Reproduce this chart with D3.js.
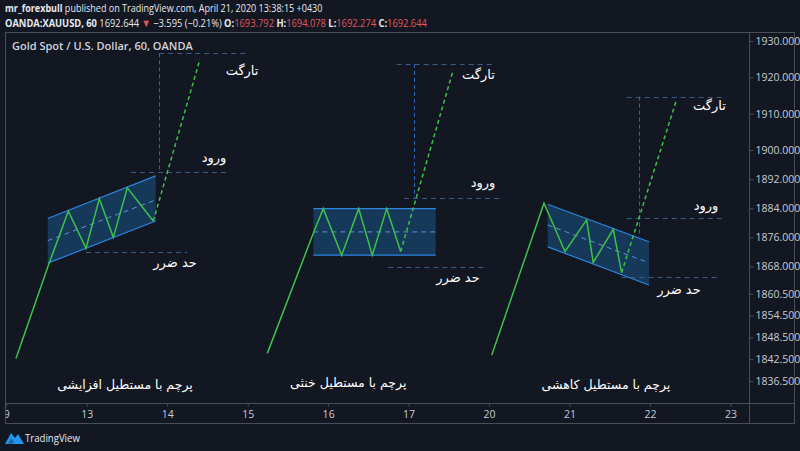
<!DOCTYPE html>
<html><head><meta charset="utf-8">
<script src="https://cdn.jsdelivr.net/npm/d3@7"></script>
<style>
html,body{margin:0;padding:0;background:#131722;}
svg{display:block;}
</style></head>
<body>
<script>
// ---------- data ----------
const dayIndex  = [0,1,2,3,4,5,6,7,8,9];
const dayLabels = ["9","13","14","15","16","17","20","21","22","23"];
const priceTicks = [1930,1920,1910,1900,1892,1884,1876,1868,1860.5,1854.5,1848.5,1842.5,1836.5];

// rising flag
const risingLine     = [[0.12,1842.7],[0.534,1869.0],[0.771,1883.2],[0.991,1873.0],[1.156,1886.6],[1.330,1876.0],[1.504,1889.6],[1.827,1880.5]];
const risingBreakout = [[1.827,1880.5],[2.407,1925.0]];
const risingChannel  = [[0.515,1881.2],[1.857,1892.9],[1.857,1880.5],[0.515,1868.9]];
const risingMid      = [[0.515,1875.1],[1.857,1886.3]];
const risingLevels   = [[1926.6,1.902,2.988],[1894.1,1.550,2.752],[1872.1,0.991,2.250]];
const risingMeasure  = [1.902,1926.6,1894.1];
const risingLabels   = [[2.93,1922.0],[2.581,1898.1],[2.097,1869.2]];
const risingTitle    = ["پرچم با مستطیل افزایشی",1.475,1835.4];

// flat flag
const flatLine     = [[3.244,1844.1],[3.824,1877.6],[3.940,1883.9],[4.168,1871.1],[4.380,1883.9],[4.549,1871.1],[4.728,1883.9],[4.902,1872.1]];
const flatBreakout = [[4.902,1872.1],[5.548,1921.5]];
const flatChannel  = [[3.816,1883.9],[5.337,1883.9],[5.337,1871.1],[3.816,1871.1]];
const flatMid      = [[3.816,1877.5],[5.337,1877.5]];
const flatLevels   = [[1923.7,4.852,6.040],[1886.7,4.943,6.127],[1867.8,4.748,5.937]];
const flatMeasure  = [5.071,1923.7,1886.7];
const flatLabels   = [[5.869,1920.9],[5.925,1891.0],[5.614,1865.1]];
const flatTitle    = ["پرچم با مستطیل خنثی",4.25,1836.0];

// falling flag
const fallingLine     = [[6.033,1843.6],[6.683,1885.4],[6.944,1872.1],[7.213,1880.8],[7.295,1869.1],[7.544,1878.2],[7.648,1866.3]];
const fallingBreakout = [[7.648,1866.3],[8.323,1913.3]];
const fallingChannel  = [[6.729,1885.1],[7.988,1874.8],[7.988,1862.9],[6.729,1873.4]];
const fallingMid      = [[6.729,1879.4],[7.988,1869.0]];
const fallingLevels   = [[1914.7,7.711,8.932],[1881.2,7.711,8.932],[1865.0,7.648,8.849]];
const fallingMeasure  = [7.864,1914.7,1876.65];
const fallingLabels   = [[8.740,1912.4],[8.696,1884.9],[8.361,1861.8]];
const fallingTitle    = ["پرچم با مستطیل کاهشی",7.453,1835.4];

const levelNames = ["تارگت","ورود","حد ضرر"];

// ---------- layout ----------
const W = 800, H = 451;
const plot = {l:5, r:749, t:32, b:403};
const outerR = 794, axisB = 423;

const svg = d3.select("body").append("svg").attr("width",W).attr("height",H);
svg.append("rect").attr("width",W).attr("height",H).attr("fill","#131722");

const x = d3.scaleLinear().domain([0,9]).range([6.3,730.4]);
const y = d3.scaleLinear().domain([1836.5,1930]).range([381,41]);

const C = {
  frame:"#4a4e59", text:"#c8cbd3", green:"#3cc24a", fill:"rgba(33,150,243,0.27)",
  edge:"#2e86de", mid:"#5b93d8", level:"#3b5b8c", measure:"#2f64b0", red:"#e0575b"
};

// header (horizontally condensed to the reference widths)
function fitLine(sel, target, tx, ty){
  const w = sel.node().getBBox().width;
  const sx = target / w;
  sel.attr("transform", `translate(${tx},${ty}) scale(${sx},1)`);
}
const hdr = svg.append("g").attr("font-family","'Open Sans', sans-serif").attr("fill","#e6e8ee");
const h1 = hdr.append("text").attr("x",0).attr("y",0).attr("font-size",11);
h1.append("tspan").attr("font-weight","bold").text("mr_forexbull");
h1.append("tspan").text(" published on TradingView.com, April 21, 2020 13:38:15 +0430");
fitLine(h1, 318, 5, 12);
const h2 = hdr.append("text").attr("x",0).attr("y",0).attr("font-size",11);
h2.append("tspan").attr("font-weight","bold").text("OANDA:XAUUSD, 60");
h2.append("tspan").text("\u00a01692.644\u00a0");
h2.append("tspan").attr("fill",C.red).text("▼");
h2.append("tspan").text("\u00a0−3.595 (−0.21%)\u00a0");
[["O:","1693.792"],["H:","1694.078"],["L:","1692.274"],["C:","1692.644"]].forEach((p,i)=>{
  h2.append("tspan").attr("font-weight","bold").text((i?"\u00a0":"")+p[0]);
  h2.append("tspan").attr("fill",C.red).text(p[1]);
});
fitLine(h2, 423, 5, 27.2);

// frame
const fr = svg.append("g").attr("fill","none").attr("stroke",C.frame).attr("stroke-width",1);
fr.append("rect").attr("x",plot.l+0.5).attr("y",plot.t+0.5).attr("width",outerR-plot.l).attr("height",axisB-plot.t);
fr.append("line").attr("x1",plot.r+0.5).attr("x2",plot.r+0.5).attr("y1",plot.t).attr("y2",axisB);
fr.append("line").attr("x1",plot.l).attr("x2",outerR).attr("y1",plot.b+0.5).attr("y2",plot.b+0.5);

// clip
svg.append("clipPath").attr("id","pc").append("rect")
  .attr("x",plot.l+1).attr("y",plot.t+1).attr("width",plot.r-plot.l-1).attr("height",plot.b-plot.t-1);

// axes
const yAxis = d3.axisRight(y).tickValues(priceTicks).tickFormat(d3.format(".3f")).tickSize(4).tickPadding(2);
const gy = svg.append("g").attr("transform",`translate(${plot.r+0.5},0)`).call(yAxis);
gy.select(".domain").remove();
gy.selectAll("line").attr("stroke",C.frame);
gy.selectAll("text").attr("fill",C.text).attr("font-size",10.5).attr("font-family","'Open Sans', sans-serif");

const xAxis = d3.axisBottom(x).tickValues(dayIndex).tickFormat((d,i)=>dayLabels[i]).tickSize(3).tickPadding(4);
svg.append("clipPath").attr("id","xc").append("rect").attr("x",plot.l+1).attr("y",plot.b).attr("width",plot.r-plot.l-1).attr("height",axisB-plot.b);
const gxw = svg.append("g").attr("clip-path","url(#xc)");
const gx = gxw.append("g").attr("transform",`translate(0,${plot.b+0.5})`).call(xAxis);
gx.select(".domain").remove();
gx.selectAll("line").attr("stroke",C.frame);
gx.selectAll("text").attr("fill",C.text).attr("font-size",10.5).attr("font-family","'Open Sans', sans-serif");

// chart title
svg.append("text").attr("x",12).attr("y",50).attr("font-size",11).attr("font-weight","600")
  .attr("font-family","'Open Sans', sans-serif").attr("fill","#d1d4dc").text("Gold Spot / U.S. Dollar, 60, OANDA");

// drawings
const g = svg.append("g").attr("clip-path","url(#pc)");
const line = d3.line().x(d=>x(d[0])).y(d=>y(d[1]));

function drawFlag(mainLine, breakout, channel, mid, levels, measure, labels, title){
  g.append("path").attr("d",line(channel)+"Z").attr("fill",C.fill).attr("stroke","none");
  g.append("path").attr("d",line([channel[0],channel[1]])).attr("stroke",C.edge).attr("stroke-width",1.2).attr("fill","none");
  g.append("path").attr("d",line([channel[3],channel[2]])).attr("stroke",C.edge).attr("stroke-width",1.2).attr("fill","none");
  g.append("path").attr("d",line(mid)).attr("stroke",C.mid).attr("stroke-width",1).attr("stroke-dasharray","5,4").attr("fill","none");
  levels.forEach(l=>{
    g.append("line").attr("x1",x(l[1])).attr("x2",x(l[2])).attr("y1",Math.round(y(l[0]))+0.5).attr("y2",Math.round(y(l[0]))+0.5)
      .attr("stroke",C.level).attr("stroke-width",1).attr("stroke-dasharray","5,4");
  });
  g.append("line").attr("x1",Math.round(x(measure[0]))+0.5).attr("x2",Math.round(x(measure[0]))+0.5)
    .attr("y1",y(measure[1])).attr("y2",y(measure[2]))
    .attr("stroke",C.measure).attr("stroke-width",1).attr("stroke-dasharray","4,3");
  g.append("path").attr("d",line(mainLine)).attr("stroke",C.green).attr("stroke-width",1.5).attr("fill","none").attr("stroke-linejoin","miter");
  g.append("path").attr("d",line(breakout)).attr("stroke",C.green).attr("stroke-width",1.5).attr("stroke-dasharray","4,3").attr("fill","none");
  labels.forEach((p,i)=>{
    g.append("text").attr("x",x(p[0])).attr("y",y(p[1])).attr("dy","0.35em").attr("text-anchor","middle")
      .attr("direction","rtl").attr("font-family","'DejaVu Sans', sans-serif").attr("font-size",13)
      .attr("fill","#ffffff").text(levelNames[i]);
  });
  g.append("text").attr("x",x(title[1])).attr("y",y(title[2])).attr("dy","0.35em").attr("text-anchor","middle")
    .attr("direction","rtl").attr("font-family","'DejaVu Sans', sans-serif").attr("font-size",12.5)
    .attr("fill","#ffffff").text(title[0]);
}
drawFlag(risingLine,risingBreakout,risingChannel,risingMid,risingLevels,risingMeasure,risingLabels,risingTitle);
drawFlag(flatLine,flatBreakout,flatChannel,flatMid,flatLevels,flatMeasure,flatLabels,flatTitle);
drawFlag(fallingLine,fallingBreakout,fallingChannel,fallingMid,fallingLevels,fallingMeasure,fallingLabels,fallingTitle);

// TradingView logo
const logo = svg.append("g").attr("transform","translate(5,430)");
logo.append("path").attr("d","M0,14 L6,3 L10,8 L13,4 L19,14 Z").attr("fill","#2196f3");
logo.append("path").attr("d","M3,14 L6,8 L10,13 Z").attr("fill","#131722").attr("opacity",0.35);
const tvText = logo.append("text").attr("x",0).attr("y",0).attr("font-size",11.5).attr("font-family","'Open Sans',sans-serif")
  .attr("fill","#e6e8ee").text("TradingView");
fitLine(tvText, 55, 20, 11.5);
</script>
</body></html>
